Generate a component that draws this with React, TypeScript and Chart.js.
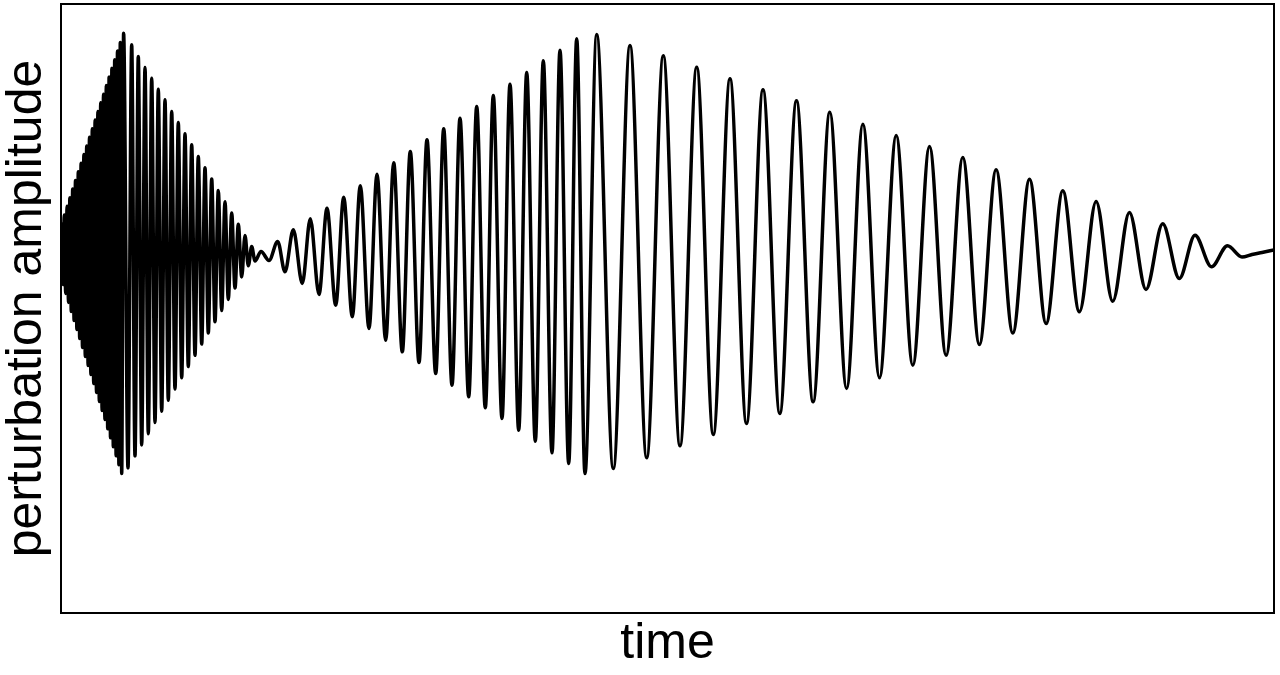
import React, { useEffect, useRef } from "react";
import { Chart, registerables } from "chart.js";

Chart.register(...registerables);

const FONT = '"Liberation Sans", Arial, Helvetica, sans-serif';

const X_TITLE = "time";
const Y_TITLE = "perturbation amplitude";

const T_MIN = 0;
const T_MAX = 1213;
const A_MIN = -357;
const A_MAX = 252;

// extrema of the first (fast) packet: time, amplitude
const firstPacketTime = [
  0.5, 1.9, 3.3, 4.7, 6.1, 7.5, 8.9, 10.3, 11.7, 13.1, 14.5, 15.9, 17.3, 18.7,
  20.1, 21.5, 22.9, 24.3, 25.7, 27.1, 28.5, 29.9, 31.3, 32.7, 34.1, 35.5, 36.9,
  38.3, 39.7, 41.1, 42.5, 43.9, 45.3, 46.7, 48.1, 49.5, 50.9, 52.3, 53.7, 55.1,
  56.5, 57.9, 59.3, 60.7, 62.6, 67.0, 70.7, 74.0, 77.3, 80.7, 84.0, 87.3, 90.7,
  94.0, 97.3, 100.7, 104.0, 107.3, 110.7, 114.0, 117.3, 120.7, 124.0, 127.3,
  130.7, 134.0, 137.3, 140.7, 144.0, 147.3, 150.7, 154.0, 157.3, 160.7, 164.0,
  167.3, 170.7, 174.0, 177.3, 180.7, 184.0, 187.3, 190.7, 194.0, 200.0, 208.0,
];
const firstPacketAmp = [
  32, -28.4, 41.1, -37.4, 49.7, -46.4, 58.3, -55.4, 67.0, -64.5, 75.6, -73.5,
  84.2, -82.5, 92.8, -91.5, 101.5, -100.5, 110.1, -109.5, 118.7, -118.6, 127.3,
  -127.6, 136.0, -136.6, 144.6, -145.6, 153.2, -154.6, 161.8, -163.6, 170.4,
  -172.7, 179.1, -181.7, 187.7, -190.7, 196.3, -199.7, 204.9, -208.7, 213.6,
  -217.5, 222.8, -211.9, 211.2, -200.1, 199.5, -188.9, 188.5, -177.8, 177.8,
  -166.5, 166.8, -155.3, 156.2, -144.2, 144.5, -133.0, 133.5, -121.7, 122.2,
  -110.6, 111.2, -99.3, 99.5, -88.1, 88.2, -76.9, 76.9, -65.7, 65.5, -54.5, 54.3,
  -43.4, 43.0, -32.1, 31.8, -20.9, 20.5, -9.8, 9.5, -5.0, 4.5, -4.5,
];

// extrema of the second (slow) packet: time, amplitude
const secondPacketTime = [
  216.7, 224.0, 232.3, 241.3, 249.3, 258.0, 266.0, 274.7, 282.7, 291.3, 299.3,
  308.0, 316.0, 324.7, 332.7, 341.3, 349.3, 358.0, 366.0, 374.7, 382.7, 391.0,
  399.0, 407.7, 415.7, 424.3, 432.3, 441.0, 449.0, 457.7, 465.7, 474.3, 482.3,
  491.0, 499.0, 507.7, 515.7, 524.0, 535.7, 552.3, 569.0, 585.7, 602.3, 619.0,
  635.7, 652.3, 669.0, 685.5, 702.0, 718.8, 735.5, 752.1, 768.8, 785.6, 801.9,
  818.5, 835.2, 851.8, 868.5, 885.1, 901.8, 918.4, 935.1, 951.8, 968.5, 985.1,
  1001.8, 1018.4, 1035.1, 1051.7, 1068.4, 1085.0, 1101.7, 1118.3, 1134.0,
  1150.5, 1166.5, 1181.0,
];
const secondPacketAmp = [
  14.5, -15.8, 26.2, -27.5, 37.2, -38.5, 47.8, -49.2, 58.8, -60.8, 70.2, -72.5,
  81.8, -84.2, 93.2, -95.8, 104.5, -106.5, 116.2, -117.5, 127.2, -129.2, 137.8,
  -140.8, 149.5, -151.8, 160.5, -162.5, 171.8, -174.2, 183.5, -185.2, 195.2,
  -196.8, 205.8, -207.5, 217.2, -217.5, 221.5, -212.5, 210.5, -201.8, 200.2,
  -189.8, 188.8, -178.5, 177.2, -167.5, 166.2, -157.5, 155.2, -145.8, 143.8,
  -132.5, 131.8, -121.8, 120.5, -109.2, 109.5, -99.2, 98.5, -88.5, 86.2, -77.0,
  76.8, -67.5, 65.2, -55.8, 54.5, -45.2, 43.5, -33.5, 32.2, -22.5, 20.8, -10.8,
  10.2, -1.0,
];

// slow drift after the oscillation has died out
const tailTime = [1191, 1201, 1213];
const tailAmp = [1.5, 3.5, 6.0];

const framePlugin = {
  id: "frame",
  afterDraw(chart: any) {
    const { ctx, chartArea } = chart;
    const { left, top, right, bottom } = chartArea;
    ctx.save();
    ctx.strokeStyle = "#000";
    ctx.lineWidth = 2;
    ctx.strokeRect(left, top, right - left, bottom - top);
    ctx.restore();
  },
};

export default function App() {
  const ref = useRef<HTMLCanvasElement>(null);

  useEffect(() => {
    const times = [...firstPacketTime, ...secondPacketTime, ...tailTime];
    const amps = [...firstPacketAmp, ...secondPacketAmp, ...tailAmp];
    const data = times.map((t, i) => ({ x: t, y: amps[i] }));

    const chart = new Chart(ref.current as HTMLCanvasElement, {
      type: "line",
      data: {
        datasets: [
          {
            data,
            borderColor: "#000",
            borderWidth: 3.5,
            pointRadius: 0,
            fill: false,
            cubicInterpolationMode: "monotone",
            borderJoinStyle: "round",
            borderCapStyle: "round",
          } as any,
        ],
      },
      options: {
        responsive: false,
        animation: false,
        devicePixelRatio: 1,
        layout: { padding: { top: 4, right: 6, left: 0, bottom: 0 } },
        plugins: { legend: { display: false }, tooltip: { enabled: false } },
        scales: {
          x: {
            type: "linear",
            min: T_MIN,
            max: T_MAX,
            grid: { display: false, drawTicks: false },
            border: { display: false },
            ticks: { display: false },
            title: {
              display: true,
              text: X_TITLE,
              color: "#000",
              font: { family: FONT, size: 50, lineHeight: 0.94 },
              padding: { top: 0, bottom: 7 },
            },
            afterFit: (s: any) => {
              s.height = 62;
            },
          },
          y: {
            type: "linear",
            min: A_MIN,
            max: A_MAX,
            grid: { display: false, drawTicks: false },
            border: { display: false },
            ticks: { display: false },
            title: {
              display: true,
              text: Y_TITLE,
              color: "#000",
              font: { family: FONT, size: 50, lineHeight: 0.94 },
              padding: { top: 4, bottom: 0 },
            },
            afterFit: (s: any) => {
              s.width = 61;
            },
          },
        },
      } as any,
      plugins: [framePlugin],
    });
    return () => chart.destroy();
  }, []);

  return (
    <div
      style={{
        position: "fixed",
        left: 0,
        top: 0,
        width: 1280,
        height: 675,
        background: "#fff",
      }}
    >
      <canvas ref={ref} width={1280} height={675} style={{ display: "block" }} />
    </div>
  );
}
